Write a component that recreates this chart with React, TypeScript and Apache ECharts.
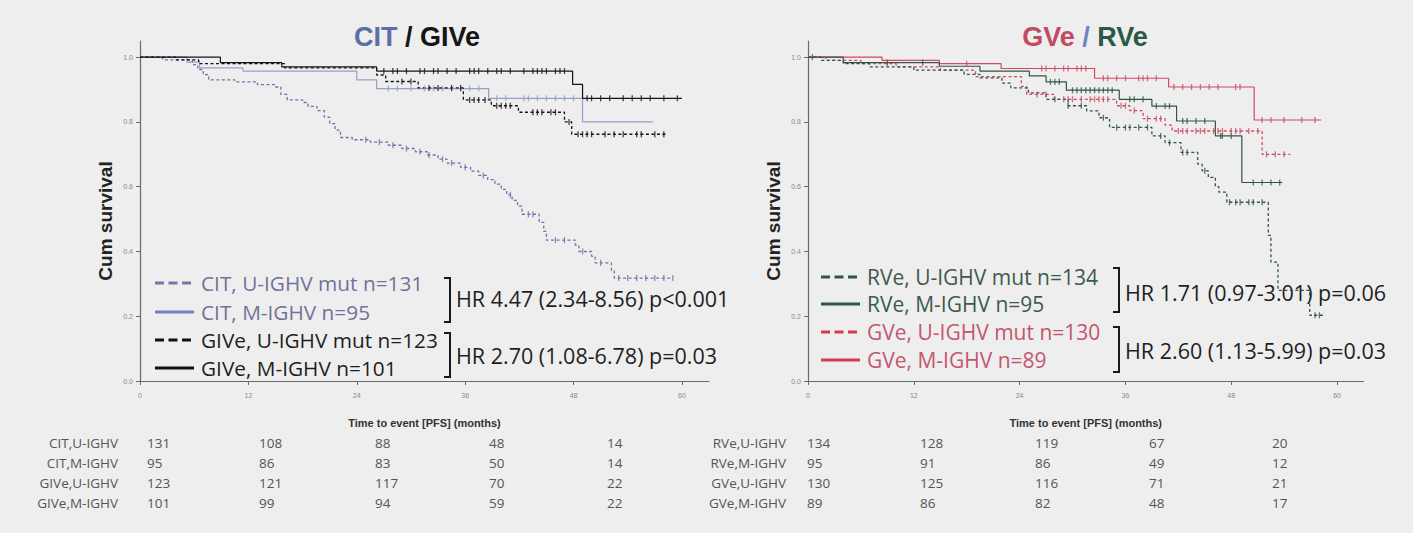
import React, { useEffect, useRef } from "react";
import * as echarts from "echarts";

// ---------- axes ----------
const xTicks = [0, 12, 24, 36, 48, 60];
const yTicks = [0, 0.2, 0.4, 0.6, 0.8, 1.0];

// ---------- left panel: CIT / GIVe (KM steps: [month, survival]) ----------
const citU = [[0,1],[2.5,0.992],[5.8,0.977],[6.4,0.962],[7.0,0.946],[7.6,0.93],[10.5,0.924],[13.0,0.915],[15.0,0.908],[15.6,0.885],[16.3,0.868],[18.0,0.86],[18.6,0.848],[19.6,0.835],[20.4,0.815],[21.0,0.795],[21.6,0.775],[22.2,0.752],[23.5,0.745],[25.5,0.738],[27.5,0.728],[29.0,0.718],[30.5,0.708],[31.8,0.698],[33.0,0.685],[34.0,0.673],[35.5,0.66],[36.6,0.648],[37.5,0.635],[38.5,0.622],[39.3,0.608],[40.0,0.592],[40.6,0.575],[41.2,0.558],[41.8,0.54],[42.3,0.515],[44.2,0.49],[44.7,0.462],[45.0,0.435],[48.2,0.42],[48.6,0.4],[50.0,0.385],[50.4,0.365],[52.2,0.34],[52.5,0.318],[59.0,0.318]];
const citUCens = [25,26.5,28,29.5,31,32,33.5,34.5,36,38,41,43,43.5,46,47,49,51,53,54,55,56,57,58,59];
const citM = [[0,1],[5.2,0.985],[6.6,0.967],[11.4,0.957],[24,0.93],[26.2,0.903],[38.6,0.873],[49,0.80],[56.8,0.80]];
const citMCens = [27.5,28.5,30,31.5,32.5,33.5,34.5,35.5,36.5,37.5,39.5,40.5,42.5,43,44,45,46,47,48];
const giveU = [[0,1],[4,0.992],[6.5,0.98],[16,0.967],[26.2,0.945],[27.2,0.925],[30.8,0.905],[35.8,0.868],[38.9,0.85],[41.9,0.83],[47,0.80],[47.8,0.762],[58.3,0.762]];
const giveUCens = [29,30,32,33,34.5,35.5,36.5,37,37.5,38.2,39.5,40,40.5,41,43.5,44,44.5,45.5,46,47.5,48.5,49,49.5,50,51.5,52.5,53.5,55,55.5,57,58];
const giveM = [[0,1],[8.9,0.983],[15.7,0.97],[26.2,0.957],[47.9,0.916],[49,0.873],[60,0.873]];
const giveMCens = [27,28,28.5,29.5,31,31.5,32.5,33,34,35,36.5,37,37.5,38.5,39.5,40,41,42.5,43.5,44,44.5,45,46,46.5,47,49.5,50,51,52,53.5,54.5,55.5,56.5,58,59.5];

// ---------- right panel: GVe / RVe ----------
const gveM = [[0,1],[8.4,0.99],[14.9,0.98],[21.9,0.965],[32.5,0.935],[40.9,0.908],[50.6,0.806],[58.2,0.806]];
const gveMCens = [18,26.5,27,28,29,29.5,30.5,31,31.5,33.5,34,35,36,37.5,38,38.5,39.5,41.5,42.5,43.5,44.5,45.5,46.5,48.5,49,51.5,52.5,54,56,57.5];
const rveM = [[0,1],[4,0.983],[14.9,0.972],[19.5,0.957],[25.1,0.942],[27,0.924],[29.3,0.898],[35.3,0.87],[39,0.849],[41.8,0.803],[46.2,0.757],[49.2,0.613],[53.8,0.613]];
const rveMCens = [0.5,9,13,27.5,28,28.5,30,30.5,31,31.5,32,32.5,33,33.5,34,34.5,36.5,37,38,39.5,40.5,41,42.5,43,44,45,46.8,47,48,50.5,51.5,52.5,53.5];
const gveU = [[0,1],[2,0.99],[6,0.98],[10,0.97],[15,0.96],[19,0.94],[24.2,0.91],[24.8,0.885],[27.9,0.87],[35,0.85],[36.5,0.835],[38,0.81],[40.5,0.79],[41.3,0.772],[51.5,0.70],[54.7,0.70]];
const gveUCens = [26,27,29,29.5,30,31,32,32.5,33,33.5,34,35.5,36,37,38.5,39.5,40,42,42.5,43,44,44.5,45,46,46.5,47,48,48.5,49,50,51,52,53,54];
const rveU = [[0,1],[1.5,0.99],[4,0.98],[7,0.97],[12,0.96],[17.7,0.947],[19.5,0.936],[22,0.92],[23,0.905],[25,0.89],[27,0.87],[29.5,0.85],[31.6,0.834],[33,0.813],[34.2,0.783],[39,0.757],[40.5,0.736],[42.3,0.706],[44.2,0.67],[44.7,0.649],[45.4,0.629],[46.2,0.6],[46.6,0.583],[47.5,0.552],[52.2,0.45],[52.5,0.367],[53.3,0.28],[56.9,0.203],[58.4,0.203]];
const rveUCens = [28,29.5,31,33.5,35,36,36.5,37.5,38.5,40,41,42.5,43,45,47.8,48.5,49,50,50.5,51.5,57.5,58];

// ---------- legends / texts ----------
const leftLegend = ["CIT, U-IGHV mut n=131", "CIT, M-IGHV n=95", "GIVe, U-IGHV mut n=123", "GIVe, M-IGHV n=101"];
const rightLegend = ["RVe, U-IGHV mut n=134", "RVe, M-IGHV n=95", "GVe, U-IGHV mut n=130", "GVe, M-IGHV n=89"];
const leftHR = ["HR 4.47 (2.34-8.56) p<0.001", "HR 2.70 (1.08-6.78) p=0.03"];
const rightHR = ["HR 1.71 (0.97-3.01) p=0.06", "HR 2.60 (1.13-5.99) p=0.03"];

// ---------- numbers at risk ----------
const leftRiskLabels = ["CIT,U-IGHV", "CIT,M-IGHV", "GIVe,U-IGHV", "GIVe,M-IGHV"];
const leftRisk = [[131,108,88,48,14],[95,86,83,50,14],[123,121,117,70,22],[101,99,94,59,22]];
const rightRiskLabels = ["RVe,U-IGHV", "RVe,M-IGHV", "GVe,U-IGHV", "GVe,M-IGHV"];
const rightRisk = [[134,128,119,67,20],[95,91,86,49,12],[130,125,116,71,21],[89,86,82,48,17]];

const C_CIT_D = "#6d73a8";
const C_CIT_S = "#93a0cc";
const C_GIVE = "#151515";
const C_RVE = "#2f5644";
const C_GVE = "#d04a63";

function survAt(steps: number[][], t: number) {
  let s = steps[0][1];
  for (const p of steps) { if (p[0] <= t) s = p[1]; else break; }
  return s;
}

export default function App() {
  const ref = useRef<HTMLDivElement>(null);
  useEffect(() => {
    if (!ref.current) return;
    const chart = echarts.init(ref.current, null, { renderer: "svg" });
    const FONT = "'Open Sans', 'Noto Sans', sans-serif";

    const mkX = (gi: number) => ({
      type: "value", gridIndex: gi, min: 0, max: 63, interval: 12,
      axisLine: { lineStyle: { color: "#6a6a6a", width: 1.2 } },
      axisTick: { customValues: xTicks, length: 4, lineStyle: { color: "#6a6a6a" } },
      axisLabel: { customValues: xTicks, fontSize: 7, color: "#8a8a8a", margin: 11 },
      splitLine: { show: false },
      name: "Time to event [PFS] (months)", nameLocation: "middle", nameGap: 36,
      nameTextStyle: { fontSize: 11, fontWeight: "bold", color: "#333", fontFamily: "Liberation Sans" },
    });
    const mkY = (gi: number) => ({
      type: "value", gridIndex: gi, min: 0, max: 1.05, interval: 0.2,
      axisLine: { show: true, lineStyle: { color: "#6a6a6a", width: 1.2 } },
      axisTick: { show: true, customValues: yTicks, length: 4, lineStyle: { color: "#6a6a6a" } },
      axisLabel: { customValues: yTicks, fontSize: 7, color: "#8a8a8a", margin: 7, formatter: (v: number) => v.toFixed(1) },
      splitLine: { show: false },
    });

    const curve = (name: string, steps: number[][], gi: number, color: string, dashed: boolean, width = 1.2) => ({
      name, type: "line", xAxisIndex: gi, yAxisIndex: gi, step: "end", symbol: "none",
      data: steps, lineStyle: { color, width, type: dashed ? [3, 2.5] : "solid" }, z: 3,
    });
    const cens = (name: string, steps: number[][], times: number[], gi: number, color: string) => ({
      name: name + " censored", type: "scatter", xAxisIndex: gi, yAxisIndex: gi,
      symbol: "rect", symbolSize: [1.3, 6],
      itemStyle: { color }, data: times.map((t) => [t, survAt(steps, t)]), z: 4,
    });

    const series = [
      curve("CIT, U-IGHV", citU, 0, C_CIT_D, true, 1.3), cens("CIT, U-IGHV", citU, citUCens, 0, C_CIT_D),
      curve("CIT, M-IGHV", citM, 0, C_CIT_S, false), cens("CIT, M-IGHV", citM, citMCens, 0, C_CIT_S),
      curve("GIVe, U-IGHV", giveU, 0, C_GIVE, true, 1.3), cens("GIVe, U-IGHV", giveU, giveUCens, 0, C_GIVE),
      curve("GIVe, M-IGHV", giveM, 0, C_GIVE, false), cens("GIVe, M-IGHV", giveM, giveMCens, 0, C_GIVE),
      curve("GVe, M-IGHV", gveM, 1, C_GVE, false), cens("GVe, M-IGHV", gveM, gveMCens, 1, C_GVE),
      curve("RVe, M-IGHV", rveM, 1, C_RVE, false), cens("RVe, M-IGHV", rveM, rveMCens, 1, C_RVE),
      curve("GVe, U-IGHV", gveU, 1, C_GVE, true, 1.3), cens("GVe, U-IGHV", gveU, gveUCens, 1, C_GVE),
      curve("RVe, U-IGHV", rveU, 1, C_RVE, true, 1.3), cens("RVe, U-IGHV", rveU, rveUCens, 1, C_RVE),
    ];

    const graphic: any[] = [];
    // titles
    const TF = { fontSize: 27, fontWeight: "bold", fontFamily: "Liberation Sans" };
    graphic.push({
      type: "text", x: 417, y: 37,
      style: {
        text: "{a|CIT }{b|/ GIVe}", align: "center", verticalAlign: "middle",
        rich: { a: { ...TF, fill: "#5a6fa6" }, b: { ...TF, fill: "#151515" } },
      },
    });
    graphic.push({
      type: "text", x: 1085, y: 37,
      style: {
        text: "{a|GVe }{c|/ }{b|RVe}", align: "center", verticalAlign: "middle",
        rich: { a: { ...TF, fill: "#c24a63" }, c: { ...TF, fill: "#6e83c4" }, b: { ...TF, fill: "#2c5945" } },
      },
    });
    // y-axis names
    const yName = (x: number) => ({
      type: "text", x, y: 221, rotation: Math.PI / 2,
      style: { text: "Cum survival", fontSize: 19, fontWeight: "bold", fill: "#222", fontFamily: "Liberation Sans", align: "center", verticalAlign: "middle" },
    });
    graphic.push(yName(105), yName(773));

    // legends
    const legend = (labels: string[], x0: number, ys: number[], lineColors: string[], textColors: string[], dashes: boolean[], fs: number) => {
      labels.forEach((lab, i) => {
        graphic.push({
          type: "line", shape: { x1: x0, y1: ys[i], x2: x0 + 39, y2: ys[i] },
          style: { stroke: lineColors[i], lineWidth: 3, lineDash: dashes[i] ? [9, 4.5] : null },
        });
        graphic.push({
          type: "text", x: x0 + 46, y: ys[i],
          style: { text: lab, fontSize: fs, fill: textColors[i], fontFamily: FONT, verticalAlign: "middle", align: "left" },
        });
      });
    };
    const dashes = [true, false, true, false];
    legend(leftLegend, 155, [283, 312, 340, 368], ["#7676a8", "#6e80be", "#111", "#111"], ["#72729a", "#72729a", "#1e1e1e", "#1e1e1e"], dashes, 20.8);
    legend(rightLegend, 821, [277, 304, 332, 360], [C_RVE, C_RVE, "#d63a52", "#d63a52"], ["#3d5a4d", "#3d5a4d", "#c4566e", "#c4566e"], dashes, 21);

    const bracket = (x: number, y1: number, y2: number) => ({
      type: "polyline", shape: { points: [[x - 6, y1], [x, y1], [x, y2], [x - 6, y2]] },
      style: { stroke: "#1a1a1a", lineWidth: 2, fill: null },
    });
    graphic.push(bracket(450, 278, 322), bracket(450, 333, 377), bracket(1119, 268, 312), bracket(1119, 327, 372));
    const hr = (t: string, x: number, y: number) => ({
      type: "text", x, y, style: { text: t, fontSize: 21.5, fill: "#1e1e1e", fontFamily: FONT, verticalAlign: "middle" },
    });
    graphic.push(hr(leftHR[0], 456, 298), hr(leftHR[1], 456, 355), hr(rightHR[0], 1125, 292), hr(rightHR[1], 1125, 350));

    // risk tables
    const rowsY = [443, 463, 483, 503];
    const table = (labels: string[], vals: number[][], labelRight: number, cols: number[]) => {
      labels.forEach((lab, r) => {
        graphic.push({ type: "text", x: labelRight, y: rowsY[r], style: { text: lab, fontSize: 13.5, fill: "#555", fontFamily: FONT, align: "right", verticalAlign: "middle" } });
        vals[r].forEach((v, c) => {
          graphic.push({ type: "text", x: cols[c], y: rowsY[r], style: { text: String(v), fontSize: 13.5, fill: "#555", fontFamily: FONT, align: "left", verticalAlign: "middle" } });
        });
      });
    };
    table(leftRiskLabels, leftRisk, 118, [147, 259, 375, 489, 607]);
    table(rightRiskLabels, rightRisk, 786, [807, 920, 1035, 1149, 1272]);

    chart.setOption({
      animation: false,
      backgroundColor: "#eeeeee",
      grid: [
        { left: 140, top: 41, width: 569, height: 340 },
        { left: 808, top: 41, width: 555.5, height: 340 },
      ],
      xAxis: [mkX(0), mkX(1)],
      yAxis: [mkY(0), mkY(1)],
      series,
      graphic,
    });
    return () => chart.dispose();
  }, []);
  return <div ref={ref} style={{ position: "fixed", left: 0, top: 0, width: 1413, height: 533 }} />;
}
